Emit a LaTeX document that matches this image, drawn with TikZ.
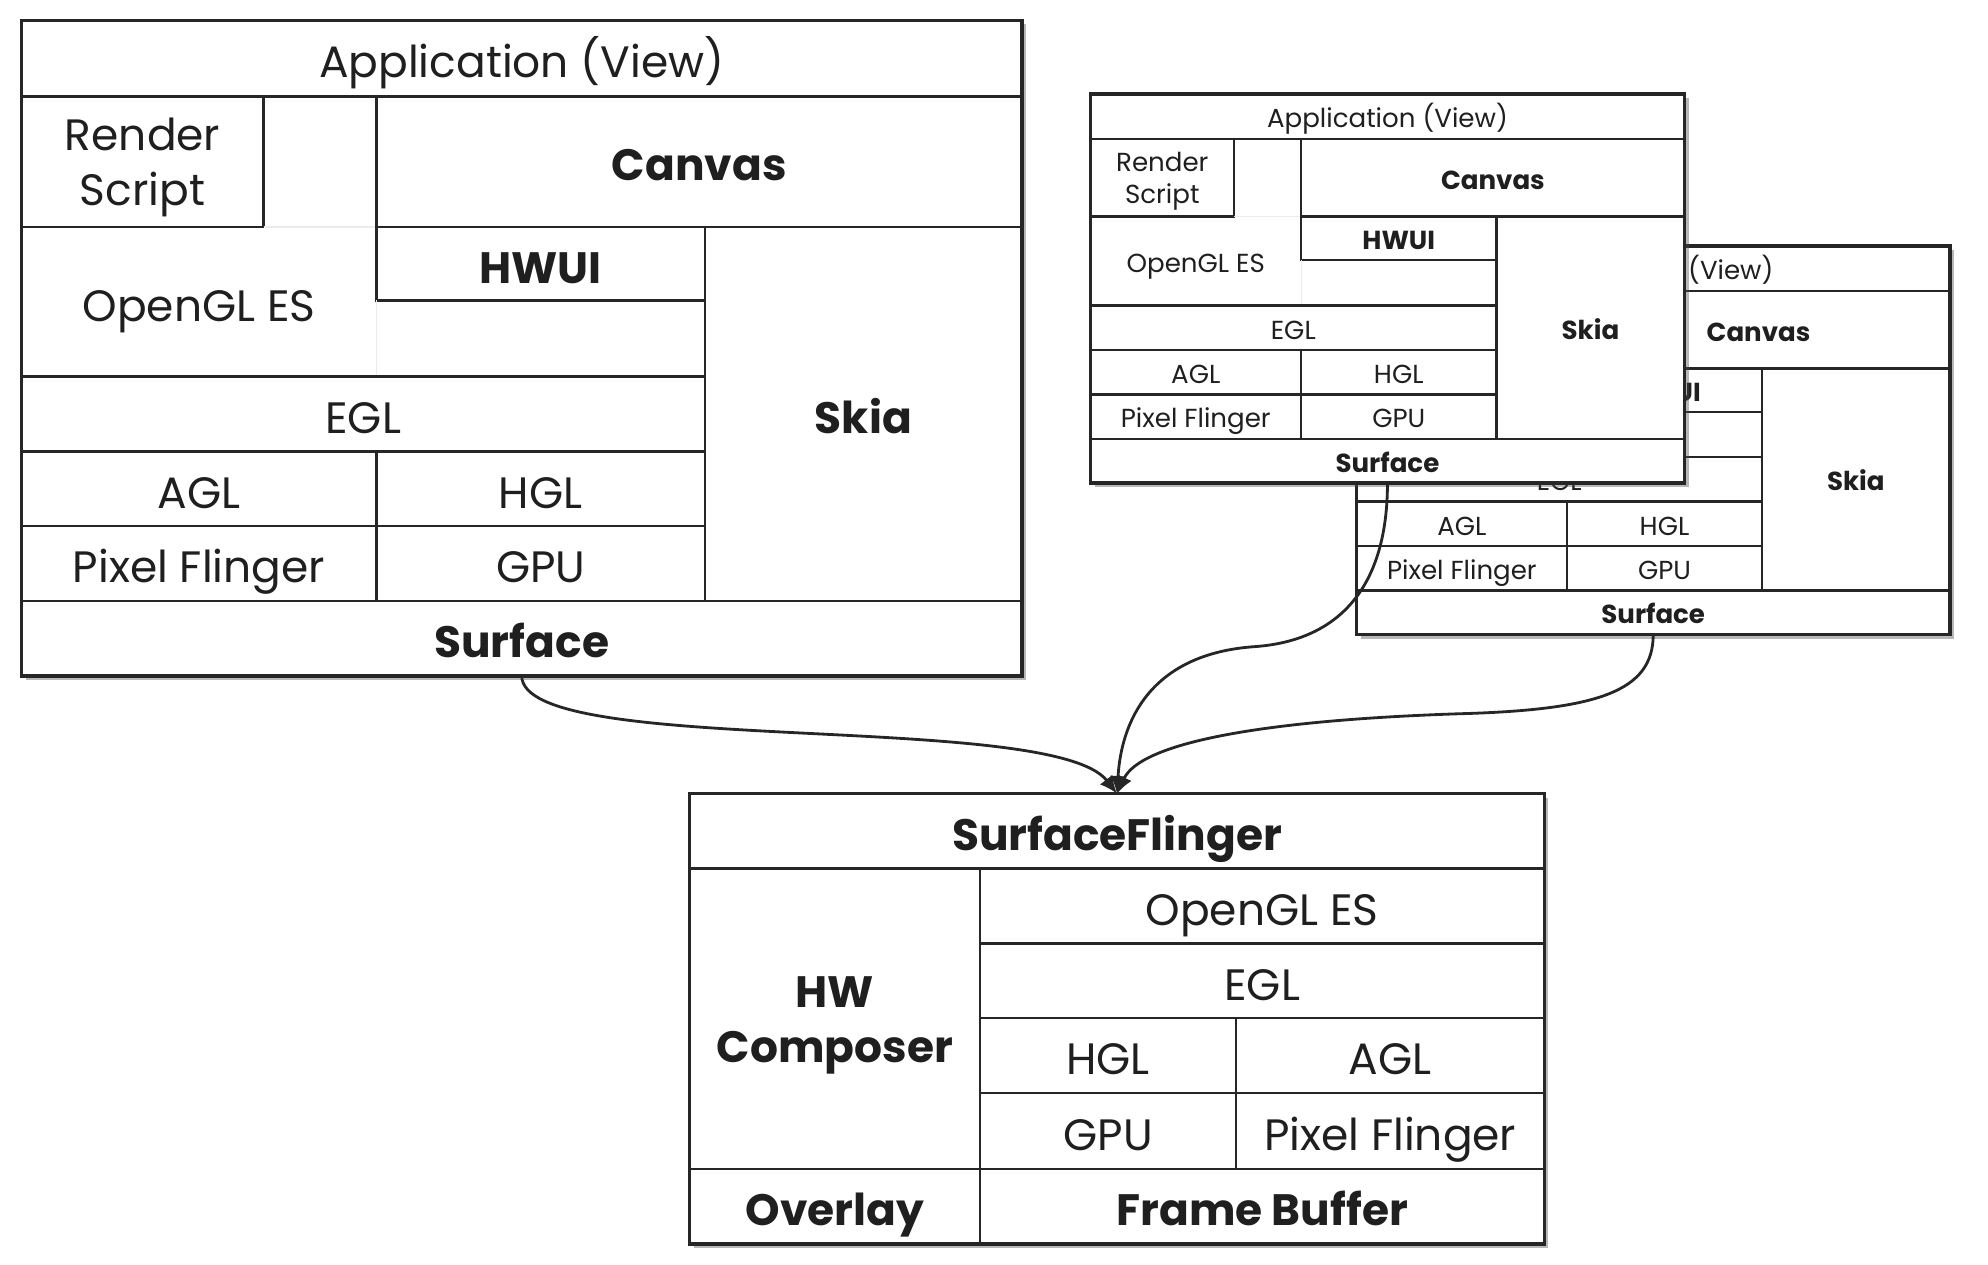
\documentclass[tikz,border=0pt]{standalone}
\usepackage{fontspec}
\setmainfont{Poppins}
\usepackage{tikz}
\usetikzlibrary{arrows.meta,shadows}
\def\viewstack#1{%
	\fill[white, boxshadow] (0,0) rectangle (789,517);
	\draw[rule] (0,60) -- (789,60);
	\draw[rule] (0,163) -- (191,163) -- (191,60);
	\draw[faint] (191,163) -- (280,163);
	\draw[rule] (280,60) -- (280,221) -- (539,221);
	\draw[faint] (280,221) -- (280,281);
	\draw[rule] (280,163) -- (789,163);
	\draw[rule] (539,163) -- (539,458);
	\draw[rule] (0,281) -- (539,281);
	\draw[rule] (0,340) -- (539,340);
	\draw[rule] (0,399) -- (539,399);
	\draw[rule] (280,340) -- (280,458);
	\draw[rule] (0,458) -- (789,458);
	\draw[edge] (0,0) rectangle (789,517);
	\node[txt] (#1-app) at (394.5,30) {Application (View)};
	\node[btxt] (#1-canvas) at (534.5,111.5) {Canvas};
	\node[btxt] (#1-hwui) at (409.5,192) {HWUI};
	\node[txt] (#1-egl) at (269.5,310.5) {EGL};
	\node[txt] (#1-agl) at (140,369.5) {AGL};
	\node[txt] (#1-hgl) at (409.5,369.5) {HGL};
	\node[txt] (#1-pf) at (140,428.5) {Pixel Flinger};
	\node[txt] (#1-gpu) at (409.5,428.5) {GPU};
	\node[btxt] (#1-skia) at (664,310.5) {Skia};
	\node[btxt] (#1-surf) at (394.5,487.5) {Surface};
	\coordinate (#1-out) at (394.5,517);
}
\def\viewgl#1{%
	\node[txt, twolines] (#1-rs) at (95.5,111.5) {Render\\Script};
	\node[txt] (#1-gles) at (140,222) {OpenGL ES};
}

\begin{document}
\begin{tikzpicture}[x=0.1268mm, y=-0.1268mm,
		rule/.style={line width=0.7pt, black!85},
		faint/.style={line width=0.4pt, black!8},
		edge/.style={line width=1pt, black!85},
		boxshadow/.style={drop shadow={shadow xshift=1.2pt, shadow yshift=-1.2pt, opacity=0.4, fill=black!70}},
		txt/.style={font=\fontsize{12.5}{15.5}\selectfont, text=black!88, inner sep=0pt, align=center, text height=11pt, text depth=0pt},
		btxt/.style={txt, font=\fontsize{12.5}{15.5}\selectfont\bfseries},
		twolines/.style={text height=, text depth=, yshift=-1.6pt},
		flow/.style={-{Latex[length=5pt,width=4.5pt]}, line width=0.8pt, black!85}]
	\useasboundingbox (0,0) rectangle (1568,997);
	
	\begin{scope}[shift={(17,16)}]
		\viewstack{va}
		\viewgl{va}
	\end{scope}
	\begin{scope}[shift={(1070,194)}, scale=0.593, transform shape]
		\viewstack{vc}
	\end{scope}
	\begin{scope}[shift={(860,74)}, scale=0.594, transform shape]
		\viewstack{vb}
		\viewgl{vb}
	\end{scope}
	
	\fill[white, boxshadow] (544,626) rectangle (1218,981);
	\draw[rule] (544,685) -- (1218,685);
	\draw[rule] (773,685) -- (773,981);
	\draw[rule] (773,744) -- (1218,744);
	\draw[rule] (773,803) -- (1218,803);
	\draw[rule] (975,803) -- (975,922);
	\draw[rule] (773,862) -- (1218,862);
	\draw[rule] (544,922) -- (1218,922);
	\draw[edge] (544,626) rectangle (1218,981);
	\node[btxt] (sflinger) at (881,655.5) {SurfaceFlinger};
	\node[btxt, twolines] (hwc) at (658.5,804.5) {HW\\Composer};
	\node[txt] (sf-gles) at (995.5,714.5) {OpenGL ES};
	\node[txt] (sf-egl) at (995.5,773.5) {EGL};
	\node[txt] (sf-hgl) at (874,832.5) {HGL};
	\node[txt] (sf-agl) at (1096.5,832.5) {AGL};
	\node[txt] (sf-gpu) at (874,892) {GPU};
	\node[txt] (sf-pf) at (1096.5,892) {Pixel Flinger};
	\node[btxt] (overlay) at (658.5,951.5) {Overlay};
	\node[btxt] (fbuf) at (995.5,951.5) {Frame Buffer};
	\coordinate (sf-in) at (881,626);
	
	\draw[flow] (va-out) .. controls +(0,65) and (830,560) .. (sf-in);
	\draw[flow] (vb-out) .. controls +(0,80) and (1058,505) .. (990,510) .. controls (915,515) and (885,560) .. (sf-in);
	\draw[flow] (vc-out) .. controls +(0,45) and (1260,560) .. (1150,563) .. controls (1000,568) and (900,585) .. (sf-in);
\end{tikzpicture}
\end{document}
